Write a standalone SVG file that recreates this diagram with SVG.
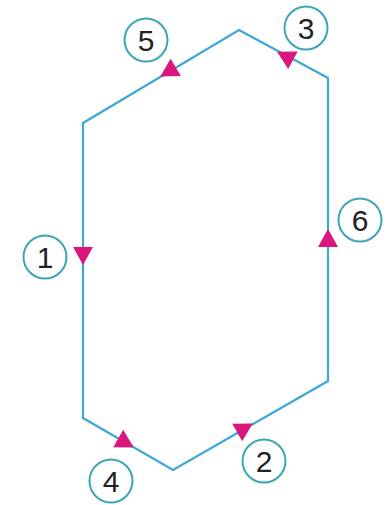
<svg xmlns="http://www.w3.org/2000/svg" width="386" height="505" viewBox="0 0 386 505">
<style>
.edge{fill:none;stroke:#3da8d8;stroke-width:2.2;stroke-linejoin:miter}
.arr{fill:#d9177f}
.lbl circle{fill:#fff;stroke:#3aa5b5;stroke-width:2}
.lbl text{font-family:"Liberation Sans",Arial,sans-serif;font-size:30px;fill:#222;text-anchor:middle}
</style>
<defs>
<path id="tri" d="M9,0 L-9,-10 L-9,10 Z"/>
</defs>
<rect width="386" height="505" fill="#fff"/>
<g id="connectors">
<path class="edge" d="M83,123 L239,30 L328,78 L328,381 L173,470 L83,418 Z"/>
<use href="#tri" class="arr" transform="translate(168,72) rotate(149.2)"/>
<use href="#tri" class="arr" transform="translate(285,56) rotate(208.3)"/>
<use href="#tri" class="arr" transform="translate(83,256) rotate(90)"/>
<use href="#tri" class="arr" transform="translate(328,238) rotate(-90)"/>
<use href="#tri" class="arr" transform="translate(126,443) rotate(30)"/>
<use href="#tri" class="arr" transform="translate(245,428) rotate(-30)"/>
</g>
<g id="n1" class="lbl"><circle cx="45" cy="257" r="21.5"/><text x="45" y="268">1</text></g>
<g id="n2" class="lbl"><circle cx="264" cy="461" r="21.5"/><text x="264" y="472">2</text></g>
<g id="n3" class="lbl"><circle cx="306" cy="28" r="21.5"/><text x="306" y="39">3</text></g>
<g id="n4" class="lbl"><circle cx="111" cy="481" r="21.5"/><text x="111" y="492">4</text></g>
<g id="n5" class="lbl"><circle cx="146" cy="40" r="21.5"/><text x="146" y="51">5</text></g>
<g id="n6" class="lbl"><circle cx="360" cy="220" r="21.5"/><text x="360" y="231">6</text></g>
</svg>
